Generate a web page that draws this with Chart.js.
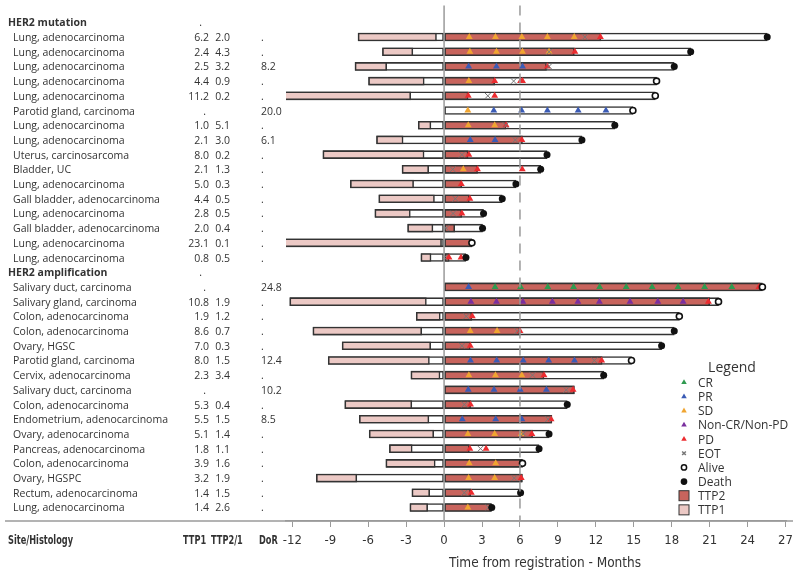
<!DOCTYPE html>
<html>
<head>
<meta charset="utf-8">
<script src="https://cdn.jsdelivr.net/npm/chart.js@4.4.1/dist/chart.umd.min.js"></script>
<style>html,body{margin:0;padding:0;background:#fff}</style>
</head>
<body>
<canvas id="swimmer" width="799" height="571"></canvas>
<script>
// table columns (row 0 and 17 are group headers)
const sites = ['HER2 mutation',
  'Lung, adenocarcinoma', 'Lung, adenocarcinoma', 'Lung, adenocarcinoma', 'Lung, adenocarcinoma',
  'Lung, adenocarcinoma', 'Parotid gland, carcinoma', 'Lung, adenocarcinoma', 'Lung, adenocarcinoma',
  'Uterus, carcinosarcoma', 'Bladder, UC', 'Lung, adenocarcinoma', 'Gall bladder, adenocarcinoma',
  'Lung, adenocarcinoma', 'Gall bladder, adenocarcinoma', 'Lung, adenocarcinoma', 'Lung, adenocarcinoma',
  'HER2 amplification',
  'Salivary duct, carcinoma', 'Salivary gland, carcinoma', 'Colon, adenocarcinoma', 'Colon, adenocarcinoma',
  'Ovary, HGSC', 'Parotid gland, carcinoma', 'Cervix, adenocarcinoma', 'Salivary duct, carcinoma',
  'Colon, adenocarcinoma', 'Endometrium, adenocarcinoma', 'Ovary, adenocarcinoma', 'Pancreas, adenocarcinoma',
  'Colon, adenocarcinoma', 'Ovary, HGSPC', 'Rectum, adenocarcinoma', 'Lung, adenocarcinoma'];
const headerRows = [0, 17];
const ttp1Text = ['.', '6.2', '2.4', '2.5', '4.4', '11.2', '.', '1.0', '2.1', '8.0', '2.1', '5.0', '4.4', '2.8', '2.0', '23.1', '0.8',
  '.', '.', '10.8', '1.9', '8.6', '7.0', '8.0', '2.3', '.', '5.3', '5.5', '5.1', '1.8', '3.9', '3.2', '1.4', '1.4'];
const ratioText = ['', '2.0', '4.3', '3.2', '0.9', '0.2', '', '5.1', '3.0', '0.2', '1.3', '0.3', '0.5', '0.5', '0.4', '0.1', '0.5',
  '', '', '1.9', '1.2', '0.7', '0.3', '1.5', '3.4', '', '0.4', '1.5', '1.4', '1.1', '1.6', '1.9', '1.5', '2.6'];
const dorText = ['', '.', '.', '8.2', '.', '.', '20.0', '.', '6.1', '.', '.', '.', '.', '.', '.', '.', '.',
  '', '24.8', '.', '.', '.', '.', '12.4', '.', '10.2', '.', '8.5', '.', '.', '.', '.', '.', '.'];
const columnTitles = ['Site/Histology', 'TTP1', 'TTP2/1', 'DoR'];

// swimmer lanes, months from registration
const priorStart = [null, -6.8, -4.87, -7.04, -5.97, -13.84, null, -2.04, -5.34, -9.58, -3.32, -7.41, -5.16, -5.47, -2.88, -23.3, -1.83,
  null, null, -12.2, -2.2, -10.37, -8.06, -9.16, -2.62, null, -7.85, -6.7, -5.92, -4.32, -4.6, -10.1, -2.54, -2.7];
const ttp1 = [null, 6.2, 2.4, 2.5, 4.4, 11.2, null, 1.0, 2.1, 8.0, 2.1, 5.0, 4.4, 2.8, 2.0, 23.1, 0.8,
  null, null, 10.8, 1.9, 8.6, 7.0, 8.0, 2.3, null, 5.3, 5.5, 5.1, 1.8, 3.9, 3.2, 1.4, 1.4];
const ttp2 = [null, 12.4, 10.3, 8.1, 4.0, 1.9, null, 4.9, 6.2, 1.9, 2.65, 1.4, 2.0, 1.4, 0.84, 2.2, 0.4,
  null, 25.0, 21.0, 2.2, 6.0, 2.07, 12.5, 7.9, 10.3, 2.1, 8.5, 7.0, 2.0, 6.05, 6.15, 2.1, 3.7];
const followUp = [null, 25.55, 19.5, 18.2, 16.8, 16.7, 14.93, 13.5, 10.9, 8.14, 7.64, 5.68, 4.6, 3.12, 3.04, 2.2, 1.73,
  null, 25.17, 21.7, 18.6, 18.2, 17.2, 14.82, 12.62, 10.3, 9.74, 8.53, 8.3, 7.51, 6.2, 6.2, 6.05, 3.77];
const status = [null, 'death', 'death', 'death', 'alive', 'alive', 'alive', 'death', 'death', 'death', 'death', 'death', 'death', 'death', 'death', 'alive', 'death',
  null, 'alive', 'alive', 'alive', 'death', 'death', 'alive', 'death', null, 'death', null, 'death', 'death', 'alive', null, 'death', 'death'];

// response assessments: [row, month]
const crEvents = [[18, 4.03], [18, 6.05], [18, 8.2], [18, 10.24], [18, 12.3], [18, 14.4], [18, 16.45], [18, 18.5], [18, 20.6], [18, 22.75]];
const prEvents = [[3, 1.94], [3, 4.14], [3, 6.2], [6, 3.93], [6, 6.13], [6, 8.17], [6, 10.6], [6, 12.8], [8, 2.07], [8, 4.03],
  [18, 1.94], [23, 2.09], [23, 4.16], [23, 6.26], [23, 8.27], [23, 10.31], [25, 1.91], [25, 3.95], [25, 6.02], [25, 8.09],
  [27, 1.44], [27, 4.08], [27, 6.15]];
const sdEvents = [[1, 1.99], [1, 4.06], [1, 6.15], [1, 8.17], [1, 10.29], [2, 2.04], [2, 4.14], [2, 6.2], [2, 8.3], [4, 1.96],
  [6, 1.88], [7, 1.91], [7, 4.0], [10, 1.52], [21, 2.07], [21, 4.19], [24, 1.96], [24, 4.06], [24, 6.15],
  [28, 1.88], [28, 4.0], [28, 6.1], [30, 1.99], [30, 4.08], [31, 1.94], [31, 4.0], [33, 1.88]];
const nonCrEvents = [[19, 2.12], [19, 4.14], [19, 6.23], [19, 8.56], [19, 10.58], [19, 12.28], [19, 14.7], [19, 16.9], [19, 18.9]];
const pdEvents = [[1, 12.36], [2, 10.34], [3, 8.17], [4, 4.0], [4, 6.05], [4, 6.2], [5, 1.91], [5, 4.0], [7, 4.9], [8, 6.15],
  [9, 1.96], [10, 2.64], [10, 6.18], [11, 1.36], [12, 2.04], [13, 1.41], [16, 0.39], [16, 1.34], [18, 24.9], [19, 20.9],
  [20, 2.23], [21, 6.0], [22, 2.07], [23, 12.46], [24, 7.9], [25, 10.2], [26, 2.09], [27, 8.46], [28, 6.94],
  [29, 2.04], [29, 3.32], [31, 6.1], [32, 2.15]];
const eotEvents = [[1, 11.13], [2, 8.3], [3, 8.3], [4, 5.5], [5, 3.46], [7, 4.87], [8, 5.63], [9, 1.41], [10, 0.68], [12, 0.89],
  [13, 0.71], [14, 0.17], [16, 0.03], [20, 1.75], [21, 5.79], [22, 1.41], [23, 11.88], [24, 6.99], [25, 9.66], [26, 1.6],
  [27, 8.22], [28, 6.26], [29, 2.88], [31, 5.55], [32, 1.6], [33, 3.5]];

const xTicks = [-12, -9, -6, -3, 0, 3, 6, 9, 12, 15, 18, 21, 24, 27];
const refLines = [0, 6];

const colors = {
  CR: '#2f9a50', PR: '#3a5bb5', SD: '#f0a531', NonCR: '#7a2f9e', PD: '#ec2b2f',
  EOT: '#777777', TTP2: '#c8645d', TTP1: '#ecc9c5', edge: '#333333', axis: '#9a9a9a', text: '#333333'
};
const narrow = "'Liberation Sans Narrow', 'Arial Narrow', 'DejaVu Sans Condensed', sans-serif";
const body = "'Open Sans', 'Noto Sans', sans-serif";

const rowIdx = sites.map((s, i) => i);

function lane(fn) {
  return rowIdx.map(i => {
    const r = fn(i);
    return r != null ? { x: r, y: i } : null;
  }).filter(Boolean);
}
function pts(list) {
  return list.map(([r, t]) => ({ x: t, y: r }));
}

const barBase = {
  type: 'bar', indexAxis: 'y', grouped: false, barThickness: 8,
  borderColor: colors.edge, borderWidth: 1.6, borderSkipped: false
};
function marker(label, list, style, color, radius, order) {
  return {
    type: 'scatter', label, data: pts(list), pointStyle: style, pointRadius: radius,
    backgroundColor: color, borderColor: color, borderWidth: 0, order
  };
}

const aliveEvents = rowIdx.filter(i => status[i] === 'alive').map(i => [i, followUp[i]]);
const deathEvents = rowIdx.filter(i => status[i] === 'death').map(i => [i, followUp[i]]);

const datasets = [
  Object.assign({}, barBase, { label: 'prior', order: 20, backgroundColor: '#fff',
    data: lane(i => priorStart[i] != null ? [priorStart[i], 0] : null) }),
  Object.assign({}, barBase, { label: 'TTP1', order: 19, backgroundColor: colors.TTP1,
    data: lane(i => priorStart[i] != null ? [priorStart[i], priorStart[i] + ttp1[i]] : null) }),
  Object.assign({}, barBase, { label: 'follow', order: 18, backgroundColor: '#fff',
    data: lane(i => followUp[i] != null ? [0, followUp[i]] : null) }),
  Object.assign({}, barBase, { label: 'TTP2', order: 17, backgroundColor: colors.TTP2,
    data: lane(i => ttp2[i] != null ? [0, ttp2[i]] : null) }),
  marker('CR', crEvents, 'triangle', colors.CR, 4, 5),
  marker('PR', prEvents, 'triangle', colors.PR, 4, 5),
  marker('SD', sdEvents, 'triangle', colors.SD, 4, 5),
  marker('Non-CR/Non-PD', nonCrEvents, 'triangle', colors.NonCR, 4, 5),
  marker('PD', pdEvents, 'triangle', colors.PD, 4, 4),
  Object.assign(marker('EOT', eotEvents, 'crossRot', colors.EOT, 4, 3), { borderWidth: 1 }),
  Object.assign(marker('Alive', aliveEvents, 'circle', '#fff', 3, 1), { borderColor: '#111', borderWidth: 1.6 }),
  marker('Death', deathEvents, 'circle', '#111', 3.5, 1)
];

const legendItems = [
  { label: 'CR', style: 'triangle', color: colors.CR },
  { label: 'PR', style: 'triangle', color: colors.PR },
  { label: 'SD', style: 'triangle', color: colors.SD },
  { label: 'Non-CR/Non-PD', style: 'triangle', color: colors.NonCR },
  { label: 'PD', style: 'triangle', color: colors.PD },
  { label: 'EOT', style: 'crossRot', color: colors.EOT },
  { label: 'Alive', style: 'circle', color: '#fff' },
  { label: 'Death', style: 'circle', color: '#111' },
  { label: 'TTP2', style: 'rect', color: colors.TTP2 },
  { label: 'TTP1', style: 'rect', color: colors.TTP1 }
];

// text squeezed sideways to look like a narrow face
function narrowText(ctx, text, x, y, squeeze) {
  ctx.save();
  ctx.translate(x, y);
  ctx.scale(squeeze, 1);
  ctx.textAlign = 'left';
  ctx.fillText(text, 0, 0);
  ctx.restore();
}

const decor = {
  id: 'decor',
  afterDatasetsDraw(chart) {
    const { ctx, chartArea, scales } = chart;
    ctx.save();
    ctx.strokeStyle = colors.axis;
    ctx.lineWidth = 1.5;
    refLines.forEach((v, k) => {
      const x = scales.x.getPixelForValue(v);
      ctx.setLineDash(k === 0 ? [] : [10, 7]);
      ctx.beginPath();
      ctx.moveTo(x, chartArea.top);
      ctx.lineTo(x, chartArea.bottom);
      ctx.stroke();
    });
    ctx.restore();
  },
  afterDraw(chart) {
    const { ctx, chartArea, scales } = chart;
    const y = scales.y;
    ctx.save();
    // full width rule under the table
    ctx.strokeStyle = colors.axis;
    ctx.lineWidth = 1.5;
    ctx.beginPath();
    ctx.moveTo(5, chartArea.bottom);
    ctx.lineTo(793, chartArea.bottom);
    ctx.stroke();

    ctx.fillStyle = colors.text;
    ctx.textBaseline = 'middle';
    rowIdx.forEach(i => {
      const py = y.getPixelForValue(i) + 1;
      const isHead = headerRows.includes(i);
      ctx.font = (isHead ? 'bold ' : '') + '10.5px ' + body;
      ctx.textAlign = 'left';
      ctx.fillText(sites[i], isHead ? 8 : 13, py);
      ctx.font = '10.5px ' + body;
      ctx.textAlign = 'right';
      ctx.fillText(ttp1Text[i], ttp1Text[i] === '.' ? (isHead ? 202 : 206) : 209, py);
      ctx.fillText(ratioText[i], 230, py);
      ctx.textAlign = 'left';
      ctx.fillText(dorText[i], 261, py);
    });

    // column titles
    ctx.font = 'bold 12px ' + narrow;
    const titleX = [8, 183, 211, 259];
    columnTitles.forEach((t, k) => narrowText(ctx, t, titleX[k], 541, 0.76));

    ctx.font = '13.5px ' + narrow;
    ctx.textAlign = 'center';
    ctx.fillText('Time from registration - Months', 545, 563);

    // legend
    ctx.font = '14px ' + body;
    ctx.fillText('Legend', 732, 368);
    ctx.font = '12px ' + body;
    legendItems.forEach((it, k) => {
      const ly = 382.5 + k * 14.15;
      if (it.style === 'rect') {
        ctx.fillStyle = it.color;
        ctx.fillRect(679, ly - 5, 10, 10);
        ctx.strokeStyle = colors.edge;
        ctx.lineWidth = 1;
        ctx.strokeRect(679, ly - 5, 10, 10);
      } else {
        ctx.fillStyle = it.color;
        ctx.strokeStyle = it.style === 'circle' ? '#111' : it.color;
        const opts = { pointStyle: it.style, radius: it.style === 'triangle' ? 3.2 : 2.6,
          borderWidth: it.style === 'triangle' ? 0 : 1 };
        Chart.helpers.drawPoint(ctx, opts, 684, ly);
      }
      ctx.fillStyle = colors.text;
      ctx.textAlign = 'left';
      ctx.fillText(it.label, 698, ly + 1);
    });
    ctx.restore();
  }
};

new Chart(document.getElementById('swimmer'), {
  type: 'bar',
  data: { datasets },
  options: {
    indexAxis: 'y',
    responsive: false,
    animation: false,
    events: [],
    layout: { padding: { left: 286, right: 9, top: 0, bottom: 0 } },
    plugins: { legend: { display: false }, tooltip: { enabled: false } },
    scales: {
      x: {
        type: 'linear', min: -12.5, max: 27.05, offset: false,
        afterBuildTicks: s => { s.ticks = xTicks.map(v => ({ value: v })); },
        afterFit: s => { s.height = 50; },
        grid: { offset: false, drawOnChartArea: false, drawTicks: true, tickLength: 6, color: colors.axis, lineWidth: 1 },
        border: { display: true, color: colors.axis, width: 1.5 },
        ticks: { color: colors.text, font: { family: narrow, size: 13 }, padding: 6, maxRotation: 0, autoSkip: false }
      },
      y: {
        type: 'linear', reverse: true, min: -1.137, max: 33.92, display: false, offset: false,
        grid: { offset: false }
      }
    }
  },
  plugins: [decor]
});
</script>
</body>
</html>
